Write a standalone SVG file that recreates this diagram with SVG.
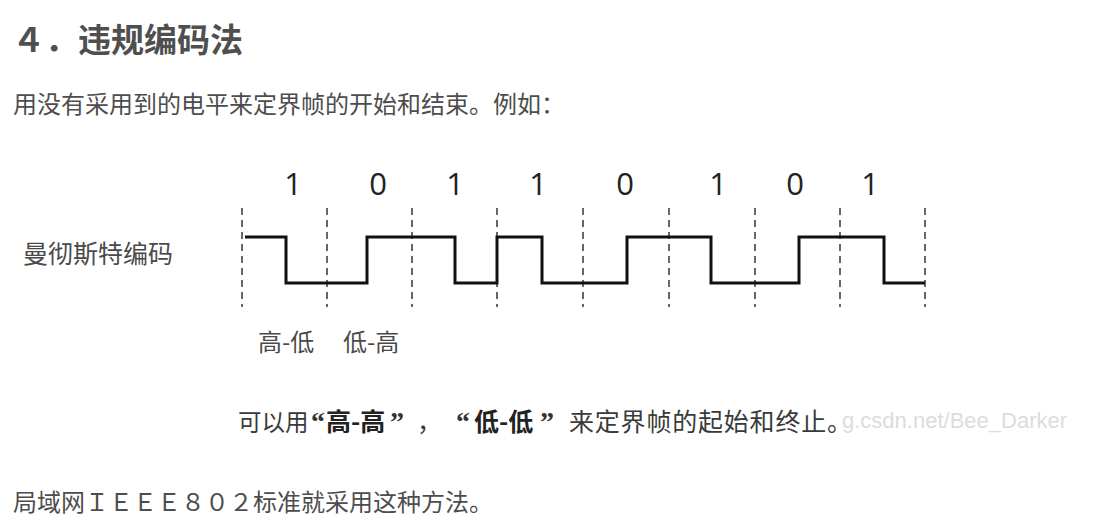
<svg xmlns="http://www.w3.org/2000/svg" width="1120" height="522" viewBox="0 0 1120 522">
  <style>
    .cjk { font-family: "Noto Sans CJK SC", "Noto Sans", sans-serif; }
    .body { font-size: 24px; fill: #4d4d4d; }
    .title { font-size: 33px; font-weight: bold; fill: #4f4f4f; }
    .fig { fill: #4a4a4a; }
    .bit { font-family: "Open Sans", "Noto Sans", sans-serif; font-size: 31px; fill: #222; text-anchor: middle; }
    .grid { stroke: #666; stroke-width: 2; stroke-dasharray: 7 5; fill: none; }
    .signal { stroke: #111; stroke-width: 3; fill: none; stroke-linejoin: miter; }
    .wm { font-family: "Liberation Sans", Arial, sans-serif; font-size: 22px; fill: #dcdcdc; }
    .q { font-family: "Liberation Serif", "Times New Roman", serif; font-weight: bold; font-size: 28px; fill: #333; }
  </style>
  <rect width="1120" height="522" fill="#ffffff"/>

  <g id="title">
    <text class="cjk title" x="12" y="52">４．违规编码法</text>
  </g>

  <g id="intro">
    <text class="cjk body" x="13" y="113">用没有采用到的电平来定界帧的开始和结束。例如：</text>
  </g>

  <g id="label-manchester">
    <text class="cjk fig" x="23" y="263" font-size="25">曼彻斯特编码</text>
  </g>

  <g id="bits">
    <text class="bit" x="293" y="195">1</text>
    <text class="bit" x="378" y="195">0</text>
    <text class="bit" x="455" y="195">1</text>
    <text class="bit" x="538" y="195">1</text>
    <text class="bit" x="625" y="195">0</text>
    <text class="bit" x="718" y="195">1</text>
    <text class="bit" x="795" y="195">0</text>
    <text class="bit" x="870" y="195">1</text>
  </g>

  <g id="connectors">
    <g id="grid">
      <line class="grid" x1="242" y1="208" x2="242" y2="307"/>
      <line class="grid" x1="327" y1="208" x2="327" y2="307"/>
      <line class="grid" x1="412" y1="208" x2="412" y2="307"/>
      <line class="grid" x1="497" y1="208" x2="497" y2="307"/>
      <line class="grid" x1="583" y1="208" x2="583" y2="307"/>
      <line class="grid" x1="669" y1="208" x2="669" y2="307"/>
      <line class="grid" x1="755" y1="208" x2="755" y2="307"/>
      <line class="grid" x1="840" y1="208" x2="840" y2="307"/>
      <line class="grid" x1="925" y1="208" x2="925" y2="307"/>
    </g>
    <path id="signal" class="signal" d="M245,237 H286 V283 H367 V237 H455 V283 H497 V237 H542 V283 H627 V237 H711 V283 H799 V237 H884 V283 H925"/>
  </g>

  <g id="edge-labels">
    <text class="cjk fig" x="258" y="351" font-size="24">高-低</text>
    <text class="cjk fig" x="343" y="351" font-size="24">低-高</text>
  </g>

  <g id="caption">
    <text class="wm" x="842" y="428">g.csdn.net/Bee_Darker</text>
    <text class="cjk" y="431" font-size="25" fill="#3a3a3a">
      <tspan x="238" font-size="23.5">可以用</tspan>
      <tspan x="311" class="q">“</tspan>
      <tspan x="326" font-weight="bold" fill="#222">高-高</tspan>
      <tspan x="390" class="q">”</tspan>
      <tspan x="417">，</tspan>
      <tspan x="456" class="q">“</tspan>
      <tspan x="474" font-weight="bold" fill="#222">低-低</tspan>
      <tspan x="540" class="q">”</tspan>
      <tspan x="569" letter-spacing="0.8">来定界帧的起始和终止。</tspan>
    </text>
  </g>

  <g id="footer">
    <text class="cjk body" x="13" y="511">局域网ＩＥＥＥ８０２标准就采用这种方法。</text>
  </g>
</svg>
